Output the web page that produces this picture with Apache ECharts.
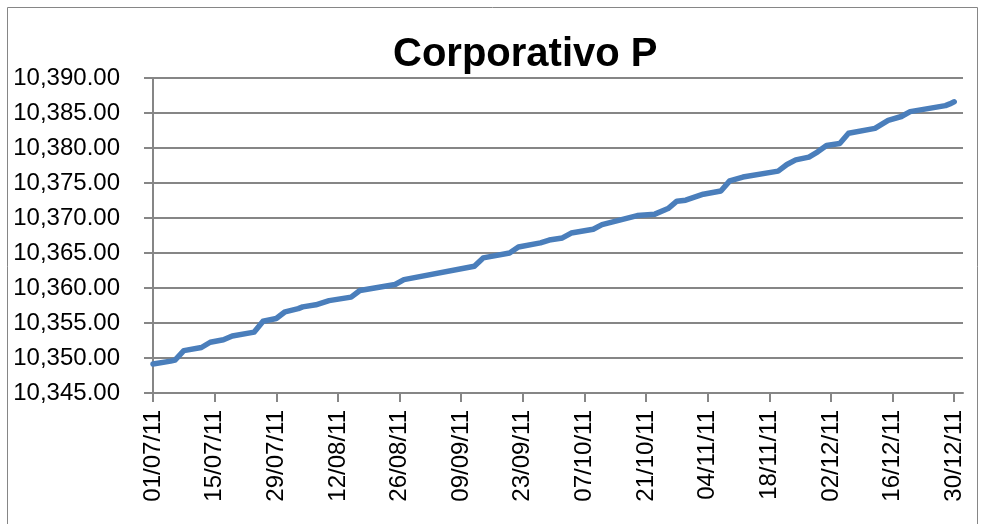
<!DOCTYPE html>
<html>
<head>
<meta charset="utf-8">
<title>Corporativo P</title>
<script src="https://cdn.jsdelivr.net/npm/echarts@6/dist/echarts.min.js"></script>
<style>
  html, body { margin: 0; padding: 0; background: #fff; }
  #line { width: 982px; height: 524px; }
</style>
</head>
<body>
<div id="line"></div>
<script>
  // eje de fechas: todos los días del 01/07/11 al 01/01/12
  var firstDay = Date.UTC(2011, 6, 1);
  var dayCount = 185;
  var categories = [];
  for (var i = 0; i < dayCount; i++) {
    var d = new Date(firstDay + i * 86400000);
    var dd = ('0' + d.getUTCDate()).slice(-2);
    var mm = ('0' + (d.getUTCMonth() + 1)).slice(-2);
    var yy = String(d.getUTCFullYear()).slice(-2);
    categories.push(dd + '/' + mm + '/' + yy);
  }

  // puntos (fecha, valor)
  var pointDates = [
    '01/07/11', '05/07/11', '06/07/11', '08/07/11', '12/07/11', '14/07/11', '17/07/11',
    '19/07/11', '24/07/11', '26/07/11', '29/07/11', '31/07/11', '03/08/11', '04/08/11',
    '07/08/11', '10/08/11', '15/08/11', '17/08/11', '25/08/11', '27/08/11', '12/09/11',
    '14/09/11', '20/09/11', '22/09/11', '27/09/11', '29/09/11', '02/10/11', '04/10/11',
    '09/10/11', '11/10/11', '19/10/11', '23/10/11', '26/10/11', '28/10/11', '30/10/11',
    '03/11/11', '07/11/11', '09/11/11', '12/11/11', '20/11/11', '22/11/11', '24/11/11',
    '27/11/11', '29/11/11', '01/12/11', '04/12/11', '06/12/11', '12/12/11', '15/12/11',
    '18/12/11', '20/12/11', '28/12/11', '29/12/11', '30/12/11'
  ];
  var pointValues = [
    10349.15, 10349.55, 10349.70, 10351.05, 10351.50, 10352.25, 10352.60,
    10353.15, 10353.70, 10355.25, 10355.65, 10356.60, 10357.05, 10357.30,
    10357.60, 10358.20, 10358.70, 10359.65, 10360.50, 10361.20, 10363.10,
    10364.30, 10365.00, 10365.85, 10366.45, 10366.85, 10367.15, 10367.85,
    10368.40, 10369.05, 10370.35, 10370.55, 10371.35, 10372.40, 10372.55,
    10373.40, 10373.85, 10375.30, 10375.85, 10376.70, 10377.65, 10378.30,
    10378.70, 10379.45, 10380.35, 10380.65, 10382.10, 10382.80, 10383.95,
    10384.50, 10385.20, 10386.05, 10386.30, 10386.60
  ];

  var yMin = 10345;
  var yMax = 10390;
  var yStep = 5;

  function fmt(v) {
    var parts = v.toFixed(2).split('.');
    return parts[0].replace(/\B(?=(\d{3})+(?!\d))/g, ',') + '.' + parts[1];
  }

  var seriesData = pointDates.map(function (d, i) {
    return [d, pointValues[i]];
  });

  var myChart = echarts.init(document.getElementById('line'));
  myChart.setOption({
    animation: false,
    backgroundColor: '#fff',
    title: {
      text: 'Corporativo P',
      left: 388,
      top: 30,
      textStyle: {
        fontFamily: 'Liberation Sans',
        fontSize: 40,
        fontWeight: 'bold',
        color: '#000'
      }
    },
    graphic: [{
      type: 'rect',
      shape: { x: 7.5, y: 7.5, width: 970, height: 530 },
      style: { fill: 'none', stroke: '#868686', lineWidth: 1 },
      silent: true
    }],
    grid: {
      left: 153,
      right: 19,
      top: 78,
      bottom: 131
    },
    xAxis: {
      type: 'category',
      data: categories,
      boundaryGap: false,
      axisLine: { lineStyle: { color: '#868686', width: 2 } },
      axisTick: {
        show: true,
        interval: 13,
        length: 9,
        lineStyle: { color: '#868686', width: 2 }
      },
      axisLabel: {
        interval: 13,
        rotate: 90,
        margin: 17,
        color: '#000',
        fontFamily: 'Liberation Sans',
        fontSize: 24
      },
      splitLine: { show: false }
    },
    yAxis: {
      type: 'value',
      min: yMin,
      max: yMax,
      interval: yStep,
      axisLine: { show: true, lineStyle: { color: '#868686', width: 2 } },
      axisTick: { show: true, length: 9, lineStyle: { color: '#868686', width: 2 } },
      axisLabel: {
        margin: 33,
        color: '#000',
        fontFamily: 'Liberation Sans',
        fontSize: 24,
        formatter: fmt
      },
      splitLine: { show: true, lineStyle: { color: '#868686', width: 2 } }
    },
    series: [{
      name: 'Corporativo P',
      type: 'line',
      data: seriesData,
      showSymbol: false,
      symbol: 'none',
      lineStyle: { color: '#4a7ebb', width: 5.5, cap: 'round', join: 'round' }
    }]
  });
</script>
</body>
</html>
